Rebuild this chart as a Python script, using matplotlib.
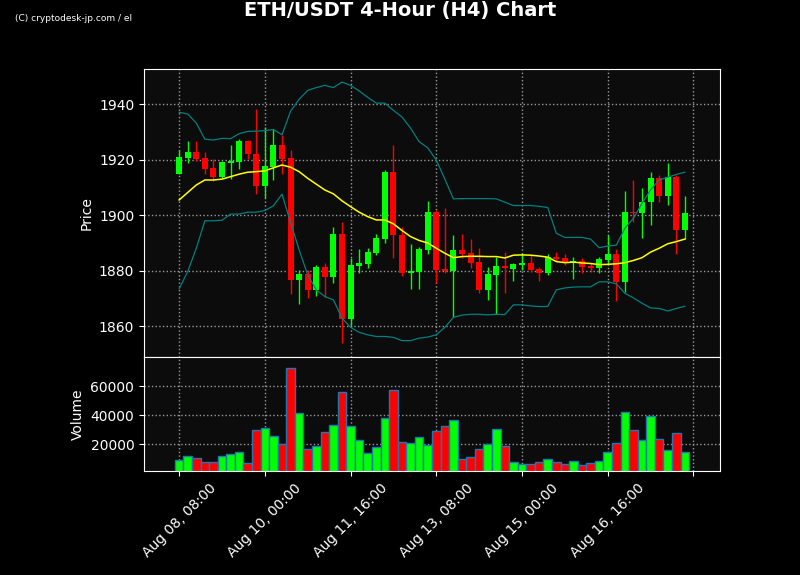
import matplotlib
matplotlib.use("Agg")
import matplotlib.pyplot as plt
import pandas as pd

# 4-hour candles, 60 bars
dates = pd.date_range("2023-08-08 08:00", periods=60, freq="4h")

opens = [1915.0, 1920.8, 1922.8, 1920.7, 1917.1, 1913.8, 1918.9, 1919.3, 1926.8, 1922.1,
         1910.7, 1917.4, 1925.3, 1920.7, 1876.7, 1878.9, 1873.1, 1881.4, 1877.8, 1893.3,
         1862.6, 1881.7, 1882.5, 1886.4, 1891.6, 1915.6, 1892.9, 1879.2, 1879.7, 1887.6,
         1901.0, 1880.5, 1880.0, 1887.5, 1886.4, 1883.2, 1873.1, 1878.3, 1881.8, 1880.7,
         1882.2, 1882.8, 1880.7, 1879.3, 1885.0, 1884.6, 1882.8, 1883.5, 1881.7, 1880.9,
         1883.9, 1886.1, 1876.1, 1901.1, 1900.9, 1904.6, 1913.5, 1907.1, 1913.8, 1894.6]
highs = [1923.5, 1926.8, 1926.8, 1922.8, 1920.2, 1919.7, 1925.2, 1927.4, 1927.1, 1938.2,
         1931.8, 1931.0, 1929.0, 1923.4, 1880.4, 1880.4, 1882.1, 1882.7, 1895.7, 1897.7,
         1884.5, 1887.7, 1888.1, 1893.3, 1916.3, 1925.2, 1895.7, 1889.5, 1888.7, 1905.0,
         1902.0, 1902.6, 1892.8, 1893.2, 1891.4, 1888.1, 1881.3, 1884.8, 1886.6, 1882.9,
         1886.3, 1885.5, 1881.5, 1886.1, 1886.8, 1886.1, 1885.1, 1884.5, 1882.7, 1885.1,
         1892.7, 1887.7, 1908.8, 1912.7, 1909.7, 1915.6, 1914.4, 1918.7, 1914.4, 1906.8]
lows = [1915.0, 1918.7, 1919.7, 1914.7, 1912.5, 1913.5, 1913.2, 1916.6, 1920.3, 1907.6,
        1906.1, 1912.6, 1914.8, 1871.7, 1868.0, 1870.1, 1871.0, 1870.4, 1875.7, 1853.9,
        1859.6, 1879.1, 1880.9, 1885.6, 1889.9, 1884.5, 1878.0, 1873.3, 1873.3, 1885.9,
        1875.5, 1879.1, 1863.5, 1884.5, 1880.9, 1872.1, 1869.4, 1864.3, 1871.8, 1876.2,
        1880.2, 1879.6, 1876.2, 1878.3, 1883.5, 1882.0, 1876.9, 1879.1, 1879.5, 1879.3,
        1882.0, 1869.2, 1872.3, 1897.7, 1891.8, 1896.4, 1904.7, 1903.6, 1885.9, 1891.4]
closes = [1921.0, 1922.8, 1920.2, 1916.7, 1913.8, 1919.2, 1919.6, 1926.8, 1921.9, 1910.7,
          1917.8, 1925.3, 1920.2, 1876.7, 1878.9, 1873.1, 1881.4, 1877.8, 1893.3, 1862.6,
          1882.1, 1882.8, 1886.9, 1891.8, 1915.6, 1892.7, 1879.2, 1880.0, 1887.9, 1901.0,
          1880.3, 1879.9, 1887.4, 1886.1, 1882.8, 1873.1, 1878.7, 1881.8, 1880.9, 1882.5,
          1882.8, 1880.4, 1879.3, 1884.8, 1884.3, 1883.1, 1883.5, 1881.5, 1880.9, 1884.3,
          1886.1, 1876.1, 1901.2, 1900.9, 1904.8, 1913.5, 1907.1, 1913.8, 1894.6, 1900.8]
volumes = [9500, 12300, 10900, 8200, 8200, 12300, 13600, 15000, 7300, 30000,
           31400, 26100, 20500, 72700, 41400, 16800, 19100, 28600, 33400, 55900,
           32700, 23200, 14100, 18400, 38200, 57300, 21800, 21100, 25200, 19800,
           29300, 33000, 36800, 10200, 11600, 17000, 20500, 30700, 19100, 8200,
           6800, 6800, 8200, 10200, 8200, 6800, 8900, 6100, 7500, 8900,
           15000, 21100, 42300, 30000, 23200, 39500, 23900, 16400, 28000, 15000]

# bollinger bands (20) as drawn
sma = [1905.5, 1908.2, 1910.9, 1912.7, 1912.7, 1913.0, 1913.9, 1914.8, 1915.5, 1915.7,
       1916.0, 1917.1, 1918.1, 1917.3, 1915.7, 1913.3, 1911.2, 1909.1, 1907.7, 1905.2,
       1903.1, 1901.1, 1899.5, 1898.3, 1898.3, 1896.9, 1894.5, 1892.3, 1890.9, 1890.0,
       1888.1, 1886.3, 1884.7, 1885.1, 1885.2, 1885.2, 1885.1, 1885.1, 1884.6, 1885.6,
       1885.7, 1885.6, 1885.3, 1884.9, 1883.3, 1882.9, 1883.1, 1882.8, 1882.6, 1882.2,
       1882.3, 1882.5, 1882.9, 1883.7, 1884.7, 1886.7, 1888.1, 1889.7, 1890.5, 1891.4]
upper = [1937.1, 1936.5, 1933.2, 1927.4, 1927.1, 1927.7, 1927.6, 1929.4, 1930.2, 1930.3,
         1930.5, 1930.9, 1929.0, 1937.5, 1941.8, 1945.0, 1946.0, 1946.8, 1946.0, 1948.0,
         1946.8, 1944.8, 1942.5, 1940.4, 1940.4, 1937.8, 1935.4, 1931.4, 1926.5, 1924.3,
         1919.9, 1913.0, 1905.9, 1906.0, 1906.0, 1906.0, 1906.0, 1905.9, 1904.7, 1903.5,
         1903.5, 1903.5, 1903.2, 1902.8, 1893.5, 1892.0, 1892.0, 1892.0, 1891.4, 1888.3,
         1888.9, 1889.2, 1895.3, 1898.9, 1904.3, 1909.1, 1912.7, 1913.7, 1914.7, 1915.5]
lower = [1873.5, 1879.7, 1888.1, 1898.0, 1898.0, 1898.2, 1900.4, 1900.4, 1901.1, 1901.1,
         1901.7, 1903.4, 1907.6, 1897.4, 1887.5, 1878.5, 1873.1, 1870.7, 1869.5, 1862.9,
         1859.6, 1857.8, 1856.9, 1856.3, 1856.3, 1856.0, 1854.8, 1854.8, 1855.7, 1856.1,
         1856.9, 1859.6, 1863.2, 1864.0, 1864.3, 1864.3, 1864.1, 1864.3, 1864.2, 1867.7,
         1867.7, 1867.3, 1867.1, 1867.1, 1873.1, 1873.8, 1874.1, 1874.2, 1874.2, 1876.0,
         1876.0, 1875.3, 1871.9, 1870.2, 1868.3, 1866.6, 1866.4, 1865.5, 1866.4, 1867.2]

x = list(range(len(dates)))
colors = ['#00ff00' if c >= o else '#ff0000' for o, c in zip(opens, closes)]

fig = plt.figure(figsize=(8, 5.75), dpi=100, facecolor='black')
ax1 = fig.add_axes([0.18, 0.3791, 0.72, 0.5009])
ax2 = fig.add_axes([0.18, 0.1809, 0.72, 0.1982], sharex=ax1)

for ax in (ax1, ax2):
    ax.set_facecolor('#0c0c0c')
    for s in ax.spines.values():
        s.set_color('white')
    ax.tick_params(colors='white', labelsize=10)
    ax.grid(True, color='#9a9a9a', linestyle=':', linewidth=1)
    ax.set_axisbelow(True)

# candles
ax1.vlines(x, lows, highs, colors=colors, linewidth=1)
bodies = [abs(c - o) if abs(c - o) > 0.15 else 0.15 for o, c in zip(opens, closes)]
ax1.bar(x, bodies, bottom=[min(o, c) for o, c in zip(opens, closes)],
        width=0.7, color=colors, linewidth=0)
ax1.plot(x, sma, color='yellow', linewidth=1.1)
ax1.plot(x, upper, color='#008080', linewidth=0.9)
ax1.plot(x, lower, color='#008080', linewidth=0.9)
ax1.set_ylim(1848.9, 1952.7)
ax1.set_yticks([1860, 1880, 1900, 1920, 1940])
ax1.set_ylabel('Price', color='white', fontsize=10)
ax1.tick_params(labelbottom=False)

# volume
ax2.bar(x, volumes, width=1.0, color=colors, edgecolor='#1f77b4', linewidth=1)
ax2.set_ylim(1800, 80000)
ax2.set_yticks([20000, 40000, 60000])
ax2.set_ylabel('Volume', color='white', fontsize=10)

ticks = list(range(0, 61, 10))
labels = [dates[i].strftime('%b %d, %H:%M') if i < len(dates) else '' for i in ticks]
ax2.set_xticks(ticks)
ax2.set_xticklabels(labels, rotation=45)
ax2.set_xlim(-4.1, 63.1)

fig.suptitle('ETH/USDT 4-Hour (H4) Chart', color='white', fontsize=14,
             fontweight='bold', y=0.999)
fig.text(0.019, 0.963, '(C) cryptodesk-jp.com / el', color='white', fontsize=6.5,
         family='Liberation Sans Narrow')

fig.savefig('out.png', dpi=100, facecolor='black')
